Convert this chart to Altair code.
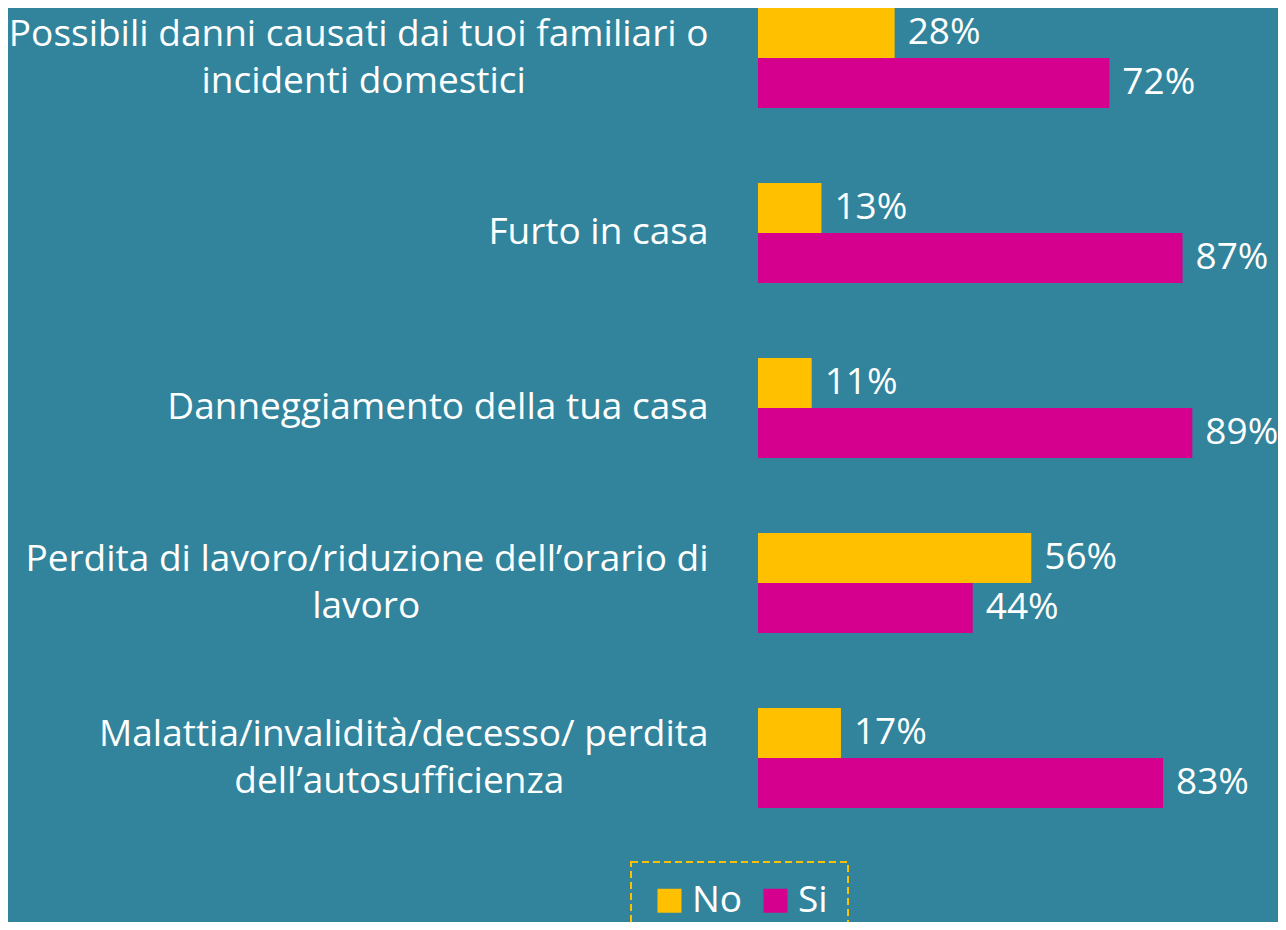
import altair as alt
import pandas as pd

categories = [
    "Possibili danni causati dai tuoi familiari o\nincidenti domestici",
    "Furto in casa",
    "Danneggiamento della tua casa",
    "Perdita di lavoro/riduzione dell\u2019orario di\nlavoro",
    "Malattia/invalidit\u00e0/decesso/ perdita\ndell\u2019autosufficienza",
]
series = ["No", "Si"]
no_values = [28, 13, 11, 56, 17]
si_values = [72, 87, 89, 44, 83]

rows = []
for c, n, s in zip(categories, no_values, si_values):
    rows.append({"categoria": c, "serie": "No", "valore": n})
    rows.append({"categoria": c, "serie": "Si", "valore": s})
df = pd.DataFrame(rows)
df["etichetta"] = df["valore"].astype(str) + "%"

BG = "#31849B"
FONT = "Open Sans"
FS = 37

# Wrapped labels: the block is right-aligned, its second line is centred under
# the first one; trailing no-break spaces (closed by a zero-width space so they
# are not trimmed) keep it centred.
NBSP = "\u00a0"
ZWSP = "\u200b"
center_pad = [("incidenti domestici", 19), ("lavoro", 30), ("dell\u2019autosufficienza", 15)]
expr = "split(datum.label, '\\n')"
for key, k in center_pad:
    expr = (
        f"indexof(datum.label, '\\n{key}') >= 0 ? "
        f"[split(datum.label, '\\n')[0], split(datum.label, '\\n')[1] + '{NBSP * k}{ZWSP}'] : "
        + expr
    )

y_enc = alt.Y(
    "categoria:N",
    sort=categories,
    scale=alt.Scale(paddingInner=75 / 175, paddingOuter=0),
    axis=alt.Axis(
        title=None,
        domain=False,
        ticks=False,
        labelPadding=50,
        labelLimit=0,
        labelFont=FONT,
        labelFontSize=FS,
        labelColor="white",
        labelLineHeight=47,
        labelAlign="right",
        labelBaseline="middle",
        labelOffset={"condition": {"test": "indexof(datum.label, '\\n') >= 0", "value": -23.5}, "value": 0},
        labelExpr=expr,
    ),
)
yoff = alt.YOffset("serie:N", sort=series, scale=alt.Scale(paddingInner=0, paddingOuter=0))
x_enc = alt.X("valore:Q", scale=alt.Scale(domain=[0, 100]), axis=None)

bars = alt.Chart(df).mark_bar(size=50).encode(
    y=y_enc,
    yOffset=yoff,
    x=x_enc,
    color=alt.Color(
        "serie:N",
        scale=alt.Scale(domain=series, range=["#FFC000", "#D6008F"]),
        legend=alt.Legend(
            title=None,
            orient="none",
            legendX=-127,
            legendY=854,
            direction="horizontal",
            symbolType="square",
            symbolSize=576,
            symbolStrokeWidth=0,
            symbolOpacity=1,
            labelFont=FONT,
            labelFontSize=FS,
            labelColor="white",
            labelOffset=4,
            columnPadding=14,
            padding=20,
            strokeColor="#FFC000",
        ),
    ),
)

labels = alt.Chart(df).mark_text(
    align="left", baseline="middle", dx=13, font=FONT, fontSize=FS, color="white"
).encode(
    y=alt.Y("categoria:N", sort=categories),
    yOffset=alt.YOffset("serie:N", sort=series),
    x=alt.X("valore:Q"),
    text="etichetta:N",
)

chart = (
    alt.layer(bars, labels)
    .properties(
        width=488,
        height=800,
        autosize=alt.AutoSizeParams(type="none"),
        padding={"left": 750, "right": 32, "top": 0, "bottom": 114},
        background=BG,
    )
    .configure_view(stroke=None)
    .configure_legend(strokeDash=[7, 4], strokeWidth=2)
)

chart.save("out.html", embed_options={"renderer": "svg", "actions": False})
